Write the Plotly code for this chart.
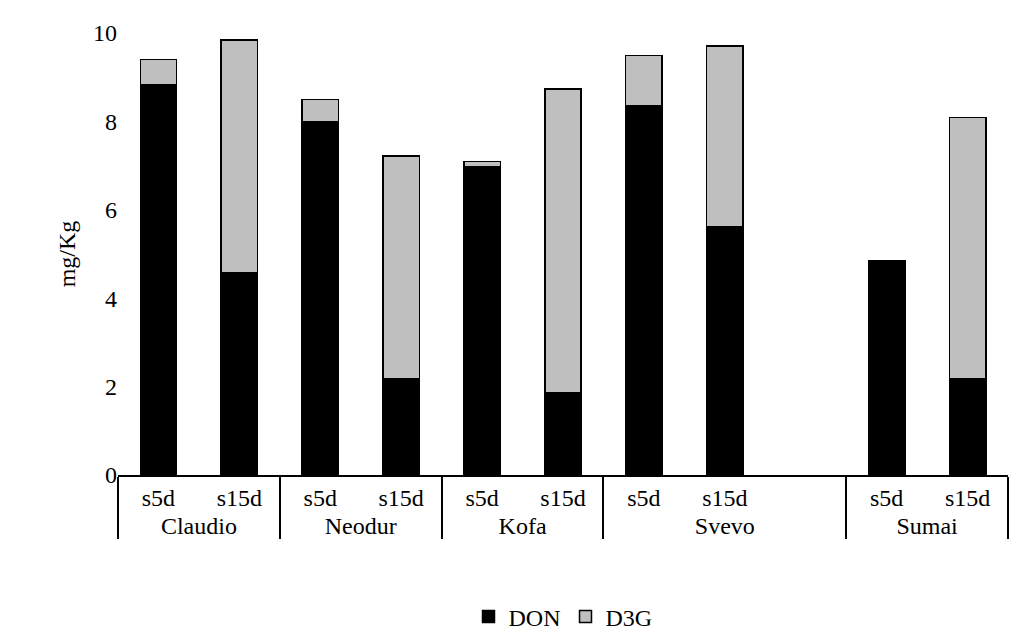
import plotly.graph_objects as go

groups = ["Claudio","Claudio","Neodur","Neodur","Kofa","Kofa","Svevo","Svevo","Svevo","Sumai","Sumai"]
samples = ["s5d","s15d","s5d","s15d","s5d","s15d","s5d","s15d"," ","s5d","s15d"]
don = [8.84,4.58,8.0,2.18,6.98,1.87,8.36,5.62,None,4.84,2.18]
d3g = [0.56,5.26,0.49,5.04,0.11,6.86,1.13,4.09,None,0.0,5.91]

font = dict(family="Liberation Serif", size=24, color="black")
fig = go.Figure()
fig.add_bar(x=[groups, samples], y=don, name="DON", marker=dict(color="black", line=dict(color="black", width=1.5)))
fig.add_bar(x=[groups, samples], y=d3g, name="D3G", marker=dict(color="#bfbfbf", line=dict(color="black", width=1.5)))
fig.update_layout(
    barmode="stack", bargap=0.55, width=1024, height=644,
    paper_bgcolor="white", plot_bgcolor="white", font=font,
    margin=dict(l=110, r=24, t=23, b=171),
    legend=dict(orientation="h", x=0.5, xanchor="center", y=-0.27, yanchor="top", font=font, traceorder="normal"),
    xaxis=dict(type="multicategory", showline=True, linecolor="black", linewidth=1.5,
               dividercolor="black", dividerwidth=1.5, tickfont=font, showgrid=False),
    yaxis=dict(range=[0,10], dtick=2, showgrid=False, zeroline=False, showline=False,
               title=dict(text="mg/Kg", font=font, standoff=10), tickfont=font, ticks=""),
)
fig.write_html("out.html")
